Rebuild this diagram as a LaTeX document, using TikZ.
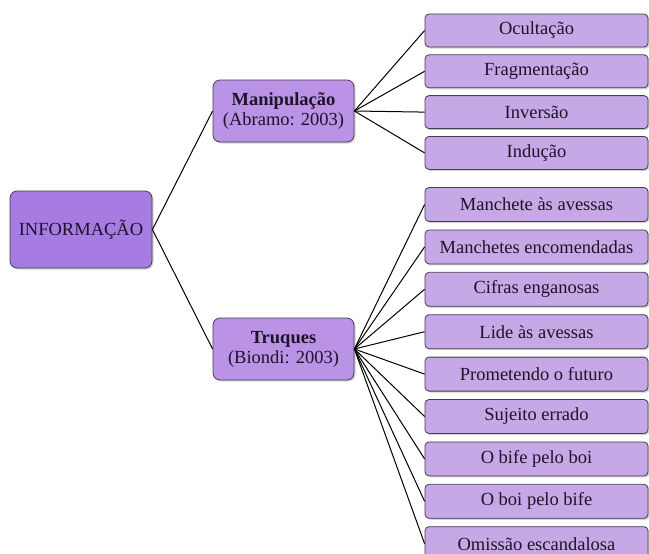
\documentclass[tikz,border=0pt]{standalone}
\usepackage{fontspec}
\setmainfont{Liberation Serif}
\usepackage{tikz}
\usetikzlibrary{shadows, positioning}
\definecolor{rootfill}{RGB}{166,124,226}
\definecolor{hubfill}{RGB}{186,146,230}
\definecolor{leaffill}{RGB}{198,168,230}
\definecolor{boxline}{RGB}{70,60,80}
\definecolor{boxtext}{RGB}{30,20,40}
\tikzstyle{root} = [rectangle, rounded corners=7pt, draw=boxline, line width=0.8pt, fill=rootfill, text=boxtext, minimum width=142pt, minimum height=77pt, text centered, font=\fontsize{18.5}{20}\selectfont, drop shadow={shadow xshift=1.5pt, shadow yshift=-1.5pt, opacity=0.35}]
\tikzstyle{hub} = [rectangle, rounded corners=7pt, draw=boxline, line width=0.8pt, fill=hubfill, text=boxtext, minimum width=141pt, minimum height=62pt, align=center, inner sep=0pt, font=\fontsize{18.5}{20}\selectfont, drop shadow={shadow xshift=1.5pt, shadow yshift=-1.5pt, opacity=0.35}]
\tikzstyle{leaf} = [rectangle, rounded corners=4pt, draw=boxline, line width=0.8pt, fill=leaffill, text=boxtext, minimum width=223pt, minimum height=33pt, inner sep=0pt, text centered, font=\fontsize{18.5}{20}\selectfont, drop shadow={shadow xshift=1.5pt, shadow yshift=-1.5pt, opacity=0.35}]
\tikzstyle{link} = [line width=1pt, black]
\begin{document}
\begin{tikzpicture}[x=1pt, y=-1pt, node distance = 7pt]
	\useasboundingbox (0,0) rectangle (649,554);
	\node (Info) [root] at (81,229.5) {INFORMAÇÃO};
	\node (Manip) [hub] at (283.5,111) {\textbf{Manipulação}\\(Abramo: 2003)};
	\node (Truques) [hub] at (283.5,349) {\textbf{Truques}\\(Biondi: 2003)};
	
	\node (Ocultacao) [leaf] at (536.5,30.5) {Ocultação};
	\node (Fragmentacao) [leaf, below = of Ocultacao] {Fragmentação};
	\node (Inversao) [leaf, below = of Fragmentacao] {Inversão};
	\node (Inducao) [leaf, below = of Inversao] {Indução};
	
	\node (Manchete) [leaf, minimum height=34pt] at (536.5,204.5) {Manchete às avessas};
	\node (Encomendadas) [leaf, minimum height=34pt, below = 7.6pt of Manchete] {Manchetes encomendadas};
	\node (Cifras) [leaf, minimum height=34pt, below = 7.6pt of Encomendadas] {Cifras enganosas};
	\node (Lide) [leaf, minimum height=34pt, below = 7.6pt of Cifras] {Lide às avessas};
	\node (Futuro) [leaf, minimum height=34pt, below = 7.6pt of Lide] {Prometendo o futuro};
	\node (Sujeito) [leaf, minimum height=34pt, below = 7.6pt of Futuro] {Sujeito errado};
	\node (BifeBoi) [leaf, minimum height=34pt, below = 7.6pt of Sujeito] {O bife pelo boi};
	\node (BoiBife) [leaf, minimum height=34pt, below = 7.6pt of BifeBoi] {O boi pelo bife};
	\node (Omissao) [leaf, minimum height=34pt, below = 7.6pt of BoiBife] {Omissão escandalosa};
	
	\draw [link] (Info.east) -- (Manip.west);
	\draw [link] (Info.east) -- (Truques.west);
	\draw [link] (Manip.east) -- (Ocultacao.west);
	\draw [link] (Manip.east) -- (Fragmentacao.west);
	\draw [link] (Manip.east) -- (Inversao.west);
	\draw [link] (Manip.east) -- (Inducao.west);
	\draw [link] (Truques.east) -- (Manchete.west);
	\draw [link] (Truques.east) -- (Encomendadas.west);
	\draw [link] (Truques.east) -- (Cifras.west);
	\draw [link] (Truques.east) -- (Lide.west);
	\draw [link] (Truques.east) -- (Futuro.west);
	\draw [link] (Truques.east) -- (Sujeito.west);
	\draw [link] (Truques.east) -- (BifeBoi.west);
	\draw [link] (Truques.east) -- (BoiBife.west);
	\draw [link] (Truques.east) -- (Omissao.west);
\end{tikzpicture}
\end{document}
